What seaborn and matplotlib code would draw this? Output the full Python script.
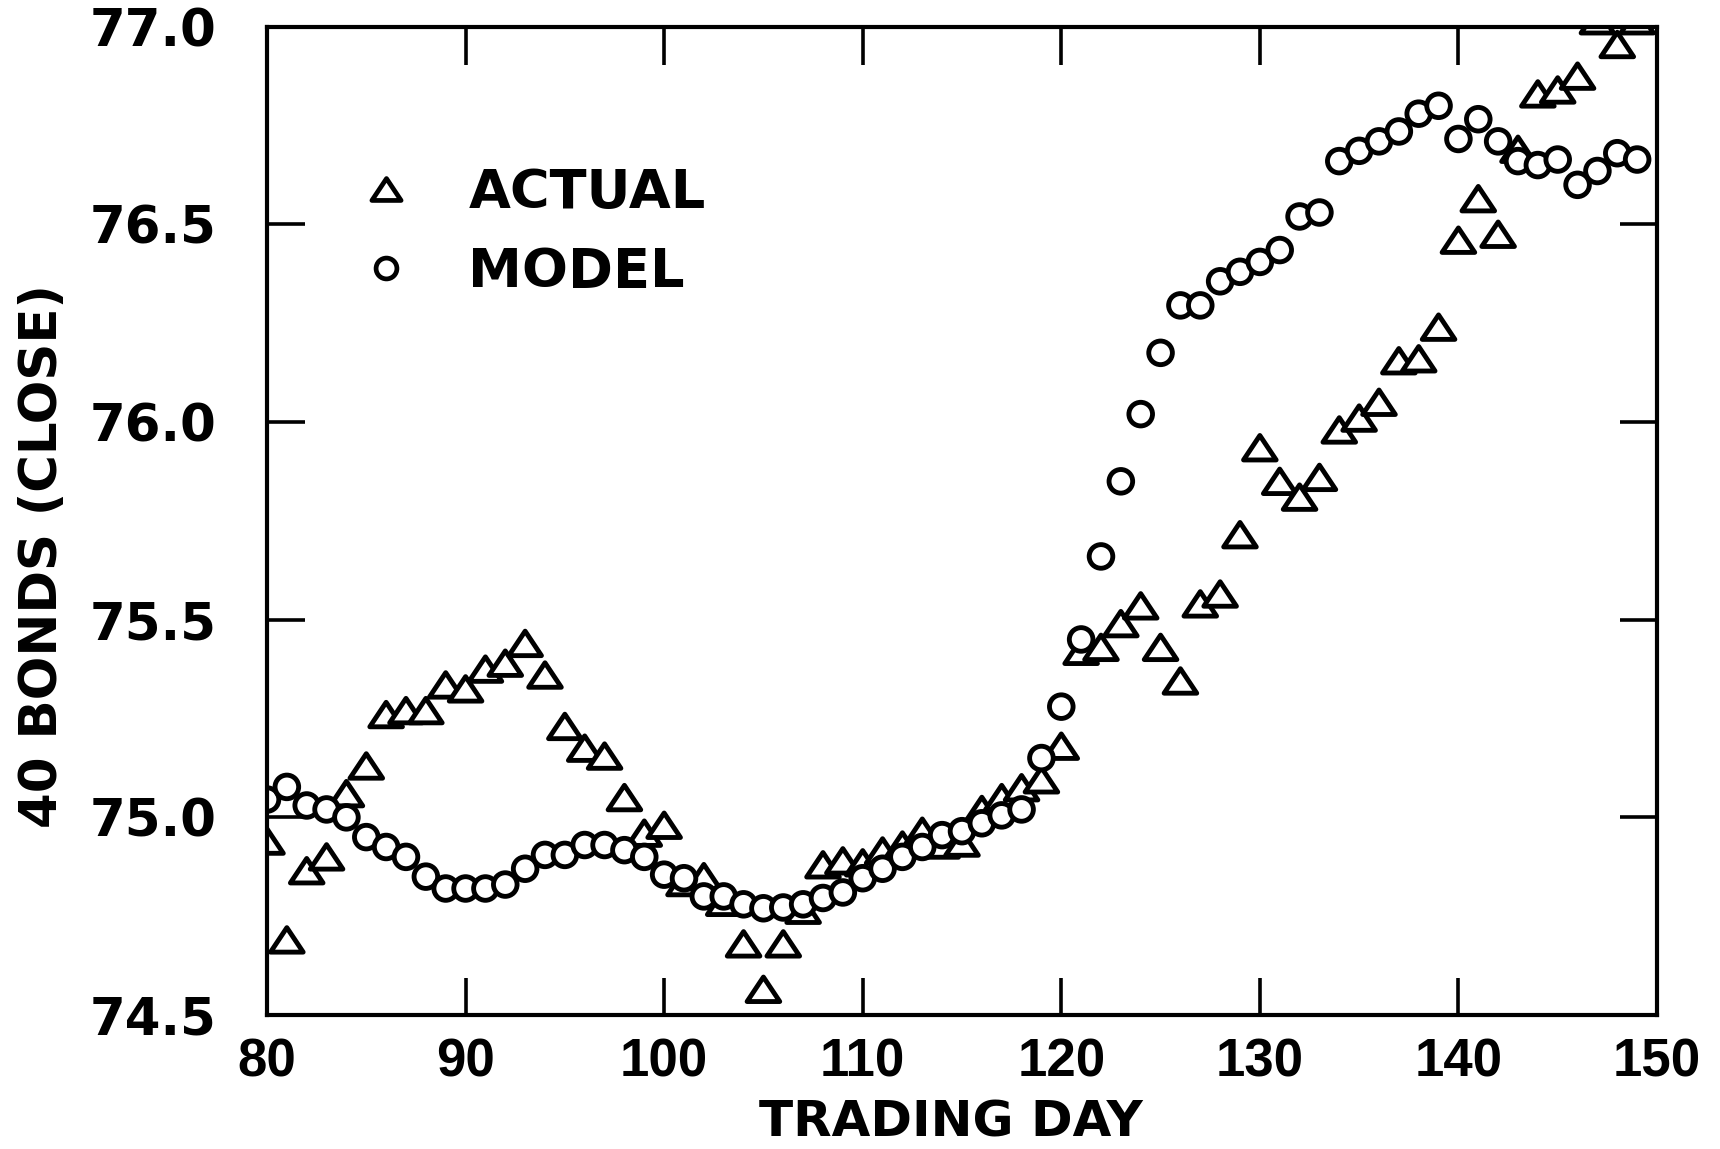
import matplotlib
matplotlib.use("Agg")
import matplotlib.pyplot as plt
import seaborn as sns
import pandas as pd
from matplotlib.path import Path
from matplotlib.lines import Line2D

# ---------------- data ----------------
days = list(range(80, 150))

actual = [74.94, 74.69, 74.865, 74.90, 75.06, 75.13, 75.26, 75.27, 75.27, 75.335,
          75.325, 75.375, 75.39, 75.44, 75.36, 75.23, 75.175, 75.155, 75.05, 74.96,
          74.98, 74.835, 74.85, 74.785, 74.68, 74.565, 74.68, 74.765, 74.88, 74.89,
          74.885, 74.915, 74.93, 74.965, 74.93, 74.935, 75.02, 75.05, 75.075, 75.095,
          75.18, 75.42, 75.43, 75.49, 75.535, 75.43, 75.345, 75.54, 75.565, 75.715,
          75.935, 75.85, 75.81, 75.86, 75.98, 76.01, 76.05, 76.155, 76.16, 76.24,
          76.46, 76.565, 76.475, 76.69, 76.83, 76.84, 76.875, 77.015, 76.955, 77.015]

model = [75.045, 75.077, 75.03, 75.02, 75.00, 74.95, 74.925, 74.90, 74.85, 74.82,
         74.82, 74.82, 74.83, 74.87, 74.905, 74.905, 74.93, 74.93, 74.917, 74.90,
         74.855, 74.846, 74.80, 74.80, 74.78, 74.77, 74.772, 74.78, 74.796, 74.81,
         74.846, 74.87, 74.90, 74.925, 74.955, 74.965, 74.985, 75.005, 75.02, 75.15,
         75.28, 75.45, 75.66, 75.85, 76.02, 76.175, 76.295, 76.295, 76.356, 76.38,
         76.405, 76.435, 76.52, 76.53, 76.66, 76.686, 76.71, 76.735, 76.78, 76.80,
         76.716, 76.766, 76.71, 76.66, 76.65, 76.664, 76.60, 76.635, 76.68, 76.664]

series_names = ["ACTUAL", "MODEL"]
x_ticks = [80, 90, 100, 110, 120, 130, 140, 150]
x_tick_labels = ["80", "90", "100", "110", "120", "130", "140", "150"]
y_ticks = [74.5, 75.0, 75.5, 76.0, 76.5, 77.0]
y_tick_labels = ["74.5", "75.0", "75.5", "76.0", "76.5", "77.0"]
x_label = "TRADING DAY"
y_label = "40 BONDS (CLOSE)"

# ---------------- style ----------------
sns.set_style("ticks")
plt.rcParams["font.family"] = ["DejaVu Sans"]
plt.rcParams["font.weight"] = "bold"
plt.rcParams["axes.labelweight"] = "bold"
for key in ["text.color", "axes.labelcolor", "xtick.color", "ytick.color",
            "axes.edgecolor", "xtick.labelcolor", "ytick.labelcolor"]:
    plt.rcParams[key] = "black"

df = pd.DataFrame({
    "day": days + days,
    "value": actual + model,
    "series": [series_names[0]] * len(days) + [series_names[1]] * len(days),
})

tri = Path([(-1, -0.75), (1, -0.75), (0, 0.75), (-1, -0.75)], closed=True)
markers = {series_names[0]: tri, series_names[1]: "o"}
sizes = {series_names[0]: 23.5 ** 2, series_names[1]: 17 ** 2}

fig = plt.figure(figsize=(17.2, 11.49), dpi=100)
ax = fig.add_axes([0.15523, 0.11662, 0.80814, 0.86014])

sns.scatterplot(data=df, x="day", y="value", style="series", markers=markers,
                size="series", sizes=sizes, color="white", edgecolor="black",
                linewidth=3.5, legend=False, ax=ax)

ax.set_xlim(80, 150)
ax.set_ylim(74.5, 77.0)
ax.set_xticks(x_ticks, labels=x_tick_labels)
ax.set_yticks(y_ticks, labels=y_tick_labels)

for s in ax.spines.values():
    s.set_linewidth(3.0)
    s.set_color("black")

ax.tick_params(axis="both", direction="in", length=27, width=2.6, color="black",
               labelcolor="black", top=True, right=True,
               labeltop=False, labelright=False)
ax.tick_params(axis="y", labelsize=37, pad=36)
ax.tick_params(axis="x", labelsize=38, pad=16)
for lab in ax.get_xticklabels():
    lab.set_fontfamily(["Liberation Sans", "DejaVu Sans"])
    lab.set_fontweight("bold")

ax.set_xlabel(x_label, fontsize=36, fontweight="bold", color="black")
ax.set_ylabel(y_label, fontsize=37, fontweight="bold", color="black")
ax.xaxis.set_label_coords(0.492, -0.084)
ax.yaxis.set_label_coords(-0.143, 0.4644)

handles = [
    Line2D([], [], linestyle="none", marker=tri, markersize=21,
           markerfacecolor="white", markeredgecolor="black", markeredgewidth=3.4),
    Line2D([], [], linestyle="none", marker="o", markersize=15,
           markerfacecolor="white", markeredgecolor="black", markeredgewidth=3.4),
]
leg = ax.legend(handles, series_names, loc="upper left", bbox_to_anchor=(0.067, 0.858),
                frameon=False, fontsize=39, handlelength=0.95, handletextpad=1.05,
                labelspacing=0.5, borderpad=0, borderaxespad=0)
for t in leg.get_texts():
    t.set_color("black")

fig.savefig("out.png", dpi=100)
